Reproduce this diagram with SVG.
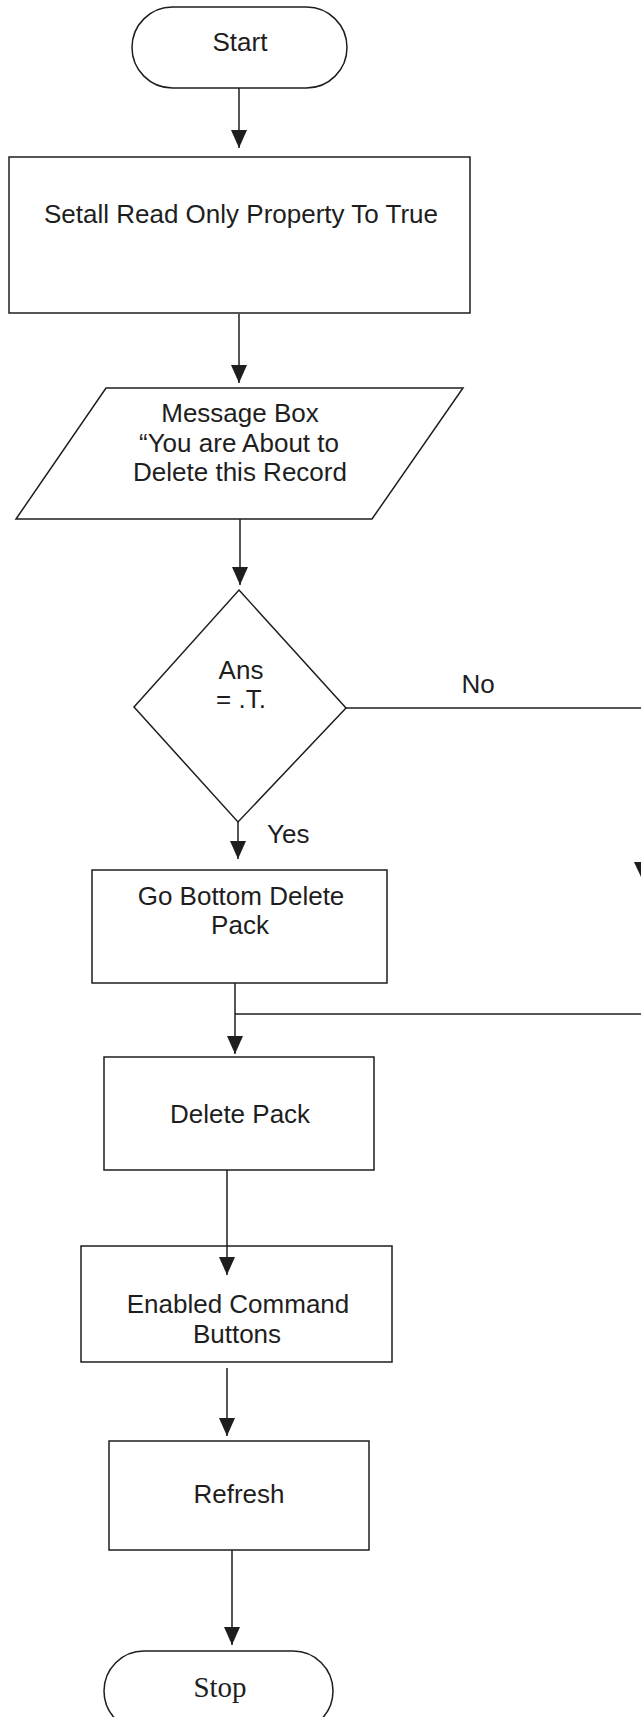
<svg xmlns="http://www.w3.org/2000/svg" width="641" height="1717" viewBox="0 0 641 1717">
  <style>
    .shape { fill: #ffffff; stroke: #1e1e1e; stroke-width: 1.5; }
    .wire { fill: none; stroke: #1e1e1e; stroke-width: 1.5; }
    .label { font-family: "Liberation Sans", Arial, sans-serif; font-size: 26px; fill: #1e1e1e; text-anchor: middle; }
    .serif { font-family: "Liberation Serif", "Times New Roman", serif; font-size: 29px; fill: #1e1e1e; text-anchor: middle; }
    .head { fill: #1e1e1e; }
  </style>
  <defs>
    <marker id="arrow" markerUnits="userSpaceOnUse" markerWidth="18" markerHeight="16" refX="18" refY="8" orient="auto">
      <path d="M0,0 L18,8 L0,16 z" class="head"/>
    </marker>
  </defs>

  <rect width="641" height="1717" fill="#ffffff"/>

  <g id="start">
    <rect class="shape" x="132" y="7" width="215" height="81" rx="40.5"/>
    <text class="label" x="240" y="51">Start</text>
  </g>

  <g id="set-readonly">
    <rect class="shape" x="9" y="157" width="461" height="156"/>
    <text class="label" x="241" y="223">Setall Read Only Property To True</text>
  </g>

  <g id="message-box">
    <polygon class="shape" points="106,388 463,388 372,519 16,519"/>
    <text class="label" x="240" y="422">Message Box</text>
    <text class="label" x="239" y="452">“You are About to</text>
    <text class="label" x="240" y="481">Delete this Record</text>
  </g>

  <g id="decision">
    <polygon class="shape" points="239,590 346,708 238,822 134,707"/>
    <text class="label" x="241" y="679">Ans</text>
    <text class="label" x="241" y="708">= .T.</text>
  </g>

  <g id="go-bottom">
    <rect class="shape" x="92" y="870" width="295" height="113"/>
    <text class="label" x="241" y="905">Go Bottom Delete</text>
    <text class="label" x="240" y="934">Pack</text>
  </g>

  <g id="delete-pack">
    <rect class="shape" x="104" y="1057" width="270" height="113"/>
    <text class="label" x="240" y="1123">Delete Pack</text>
  </g>

  <g id="enable-buttons">
    <rect class="shape" x="81" y="1246" width="311" height="116"/>
    <text class="label" x="238" y="1313">Enabled Command</text>
    <text class="label" x="237" y="1343">Buttons</text>
  </g>

  <g id="refresh">
    <rect class="shape" x="109" y="1441" width="260" height="109"/>
    <text class="label" x="239" y="1503">Refresh</text>
  </g>

  <g id="stop">
    <rect class="shape" x="104" y="1651" width="229" height="80" rx="40"/>
    <text class="serif" x="220" y="1697">Stop</text>
  </g>

  <!-- connectors, drawn last so arrow tips stay visible over the boxes -->
  <g id="connectors">
    <line class="wire" x1="239" y1="88" x2="239" y2="148" marker-end="url(#arrow)"/>
    <line class="wire" x1="239" y1="314" x2="239" y2="383" marker-end="url(#arrow)"/>
    <line class="wire" x1="240" y1="519" x2="240" y2="585" marker-end="url(#arrow)"/>
    <!-- No branch runs off to the right -->
    <line class="wire" x1="346" y1="708" x2="641" y2="708"/>
    <text class="label" x="478" y="693">No</text>
    <!-- Yes branch -->
    <line class="wire" x1="238" y1="822" x2="238" y2="859" marker-end="url(#arrow)"/>
    <text class="label" x="267" y="843" style="text-anchor:start">Yes</text>
    <!-- return path joining from the right -->
    <polygon class="head" points="634,862 650,862 642,879"/>
    <line class="wire" x1="235" y1="1014" x2="641" y2="1014"/>
    <line class="wire" x1="235" y1="983" x2="235" y2="1054" marker-end="url(#arrow)"/>
    <line class="wire" x1="227" y1="1170" x2="227" y2="1275" marker-end="url(#arrow)"/>
    <line class="wire" x1="227" y1="1368" x2="227" y2="1436" marker-end="url(#arrow)"/>
    <line class="wire" x1="232" y1="1550" x2="232" y2="1645" marker-end="url(#arrow)"/>
  </g>
</svg>
